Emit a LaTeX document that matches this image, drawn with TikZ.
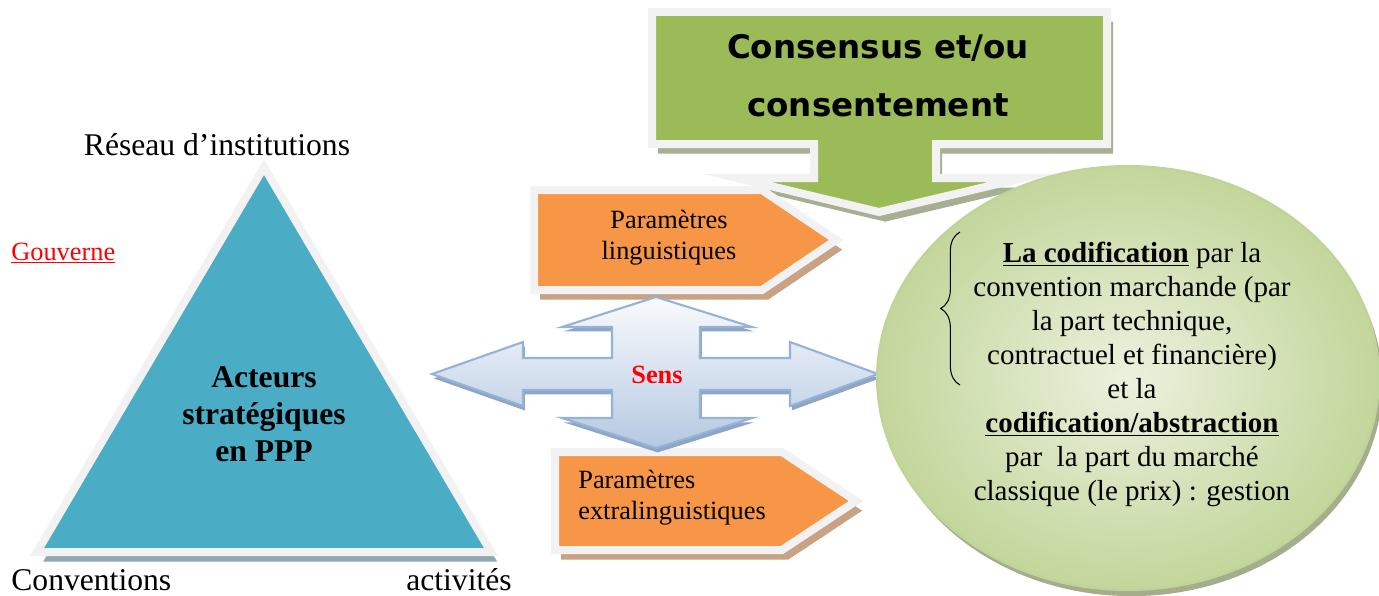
\documentclass[tikz,border=0pt]{standalone}
\usepackage{fontspec}
\setmainfont{Liberation Serif}
\newfontfamily\consfont{DejaVu Sans}
\usetikzlibrary{shadows,decorations.pathreplacing}
\definecolor{tealfill}{HTML}{4BACC6}
\definecolor{trishadow}{HTML}{8FA9B1}
\definecolor{consgreen}{HTML}{9BBB59}
\definecolor{consshadow}{HTML}{A6AF92}
\definecolor{paramorange}{HTML}{F79646}
\definecolor{paramshadow}{HTML}{C9A283}
\definecolor{edgegray}{HTML}{F2F2F2}
\definecolor{sensblue}{HTML}{B4C8E2}
\definecolor{sensedge}{HTML}{95B3D7}
\definecolor{sensshadow}{HTML}{8FA5C6}
\definecolor{ovalin}{HTML}{EBF1DE}
\definecolor{ovalout}{HTML}{C3D69B}
\definecolor{ovaledge}{HTML}{BFD498}
\definecolor{ovalshadow}{HTML}{A4AE8C}
\begin{document}
\begin{tikzpicture}[x=0.02cm,y=-0.02cm,
    framed/.style={draw=edgegray,line width=0.16cm,line join=miter,
      drop shadow={shadow xshift=3.5pt,shadow yshift=-5.5pt,fill=#1,opacity=1}},
    sensarrow/.style={draw=sensedge,line width=1.2pt,top color=white!92!sensblue,
      bottom color=sensblue,
      drop shadow={shadow xshift=1pt,shadow yshift=-2.5pt,fill=sensshadow,opacity=1}},
    oval/.style={draw=ovaledge,line width=1.2pt,inner color=ovalin,outer color=ovalout,
      drop shadow={shadow xshift=2pt,shadow yshift=-3.5pt,fill=ovalshadow,opacity=1}},
    lbl/.style={font=\fontsize{18}{21}\selectfont},
    paramtxt/.style={inner sep=0pt,font=\fontsize{15}{17.6}\selectfont}]
  \useasboundingbox (0,0) rectangle (1379,595);
  % triangle
  \path[framed=trishadow,fill=tealfill] (264,167) -- (491,552) -- (37,552) -- cycle;
  % callout
  \path[framed=consshadow,fill=consgreen] (652,12) -- (1107,12) -- (1107,144) -- (936,144)
    -- (936,178) -- (1023,178) -- (879,212) -- (737,178) -- (814,178) -- (814,144)
    -- (652,144) -- cycle;
  % parametres
  \path[framed=paramshadow,fill=paramorange] (534,190) -- (762,190) -- (836,240)
    -- (762,290) -- (534,290) -- cycle;
  \path[framed=paramshadow,fill=paramorange] (555,452) -- (782,452) -- (856,501)
    -- (782,550) -- (555,550) -- cycle;
  % sens
  \path[sensarrow] (656,297) -- (752,327) -- (700,327) -- (700,358) -- (790,358)
    -- (790,342) -- (878,374) -- (790,406) -- (790,390) -- (700,390) -- (700,418)
    -- (752,418) -- (656,448) -- (562,418) -- (612,418) -- (612,390) -- (523,390)
    -- (523,406) -- (432,374) -- (523,342) -- (523,358) -- (612,358) -- (612,327)
    -- (562,327) -- cycle;
  % ellipse
  \path[oval] (1128,378) ellipse [x radius=5.02cm,y radius=4.24cm];

  \node[lbl,anchor=base] (reseau) at (217,155) {Réseau d’institutions};
  \node[anchor=base west,inner sep=0pt,text=red,font=\fontsize{15}{18}\selectfont] (gouverne) at (11,260) {\underline{Gouverne}};
  \node[lbl,anchor=base west,inner sep=0pt] (conventions) at (11,590) {Conventions};
  \node[lbl,anchor=base east,inner sep=0pt] (activites) at (512,590) {activités};
  \node[anchor=north,align=center,inner sep=0pt,font=\bfseries\fontsize{18}{21}\selectfont]
    (acteurs) at (264,366) {Acteurs\\stratégiques\\en PPP};
  \node[anchor=north,align=center,inner sep=0pt,font=\consfont\bfseries\fontsize{18.5}{33}\selectfont]
    (consensus) at (878,34) {Consensus et/ou\\consentement};
  \node[paramtxt,anchor=north,align=center] (paramling) at (669,210) {Paramètres\\linguistiques};
  \node[paramtxt,anchor=north west,align=left] (paramextra) at (578,470) {Paramètres\\extralinguistiques};
  \node[anchor=base,text=red,font=\bfseries\fontsize{15}{18}\selectfont] (sens) at (657,383) {Sens};
  \node[anchor=north,align=center,inner sep=0pt,font=\fontsize{16.5}{19.3}\selectfont]
    (codif) at (1132,242) {\underline{\textbf{La codification}} par la\\
      convention marchande (par\\
      la part technique,\\
      contractuel et financière)\\
      et la\\
      \underline{\textbf{codification/abstraction}}\\
      par\ \ la part du marché\\
      classique (le prix) : gestion};
  \coordinate (bracebot) at (960,385);
  \coordinate (bracetop) at (960,232);
  \draw[decorate,decoration={brace,amplitude=11pt},line width=0.6pt] (bracebot) -- (bracetop);
\end{tikzpicture}
\end{document}
